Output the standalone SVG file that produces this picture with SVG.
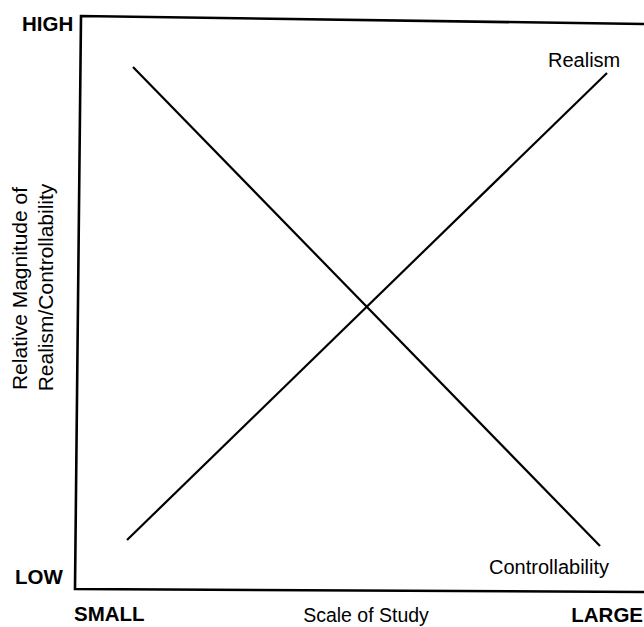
<svg xmlns="http://www.w3.org/2000/svg" width="644" height="627" viewBox="0 0 644 627">
  <style>
    .axis { fill: none; stroke: #000; stroke-width: 2.6; stroke-linejoin: miter; }
    .trend { fill: none; stroke: #000; stroke-width: 2.2; }
    .lbl { font-family: "Liberation Sans", Arial, sans-serif; fill: #000; }
    .bold { font-weight: bold; font-size: 20.5px; }
    .reg { font-size: 20px; }
  </style>
  <rect width="644" height="627" fill="#fff"/>

  <!-- plot frame: top edge, left axis, bottom axis -->
  <g id="frame">
    <polyline class="axis" points="644,24 81,16 75,589 644,592"/>
  </g>

  <!-- axis extremes -->
  <g id="axis-labels">
    <text class="lbl bold" x="22" y="31">HIGH</text>
    <text class="lbl bold" x="15" y="584">LOW</text>
    <text class="lbl bold" x="74" y="621">SMALL</text>
    <text class="lbl bold" x="643" y="622" text-anchor="end">LARGE</text>
    <text class="lbl" font-size="19.5" x="366" y="622" text-anchor="middle">Scale of Study</text>
    <g transform="translate(27,288.5) rotate(-90)">
      <text class="lbl" font-size="21" x="0" y="0" text-anchor="middle">Relative Magnitude of</text>
    </g>
    <g transform="translate(53,287.5) rotate(-90)">
      <text class="lbl" font-size="21" x="0" y="0" text-anchor="middle">Realism/Controllability</text>
    </g>
  </g>

  <!-- trend lines -->
  <g id="connectors">
    <line id="controllability-line" class="trend" x1="133" y1="67" x2="600" y2="546"/>
    <line id="realism-line" class="trend" x1="127" y1="540" x2="607" y2="73"/>
  </g>

  <g id="realism">
    <text class="lbl reg" x="548" y="67">Realism</text>
  </g>
  <g id="controllability">
    <text class="lbl reg" x="489" y="574">Controllability</text>
  </g>
</svg>
